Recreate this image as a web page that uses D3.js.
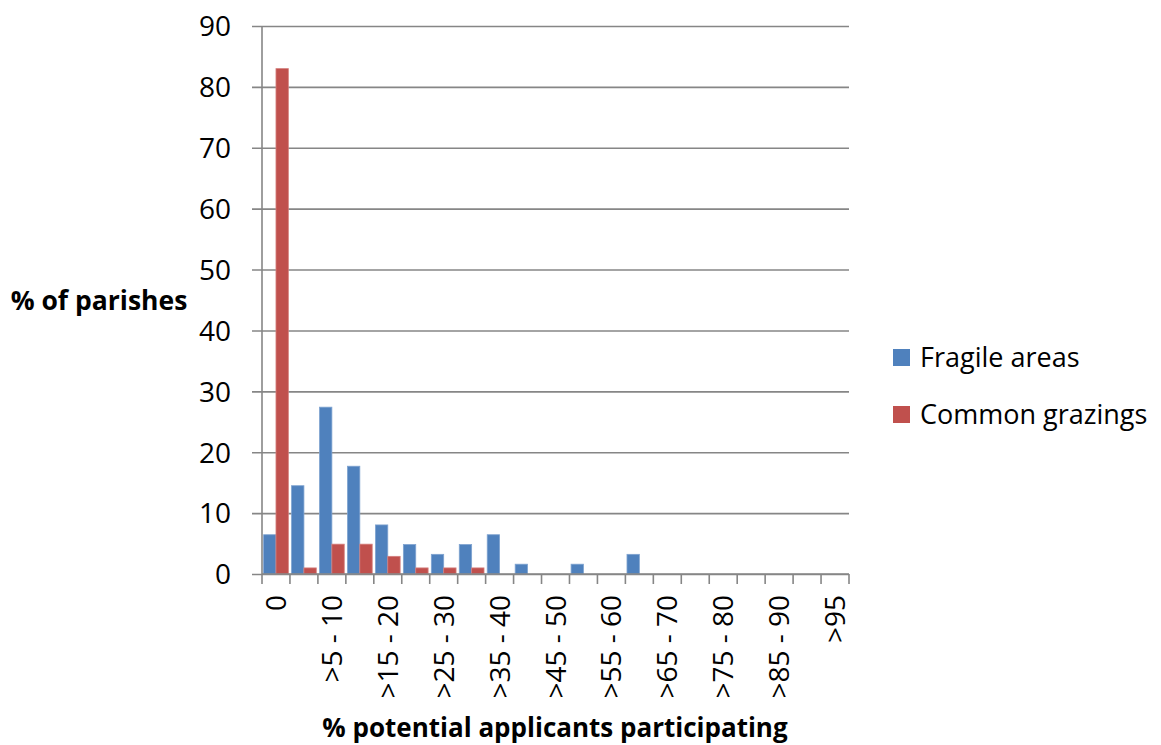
<!DOCTYPE html>
<html>
<head>
<meta charset="utf-8">
<script src="https://cdn.jsdelivr.net/npm/d3@7"></script>
<style>
  html, body { margin: 0; padding: 0; background: #fff; }
  svg { display: block; }
  text { font-family: "Open Sans", Lato, sans-serif; fill: #000; }
</style>
</head>
<body>
<svg id="chart" width="1161" height="745"></svg>
<script>
const categories = ["0", ">0 - 5", ">5 - 10", ">10 - 15", ">15 - 20", ">20 - 25", ">25 - 30", ">30 - 35", ">35 - 40", ">40 - 45", ">45 - 50", ">50 - 55", ">55 - 60", ">60 - 65", ">65 - 70", ">70 - 75", ">75 - 80", ">80 - 85", ">85 - 90", ">90 - 95", ">95"];
const seriesNames = ["Fragile areas", "Common grazings"];
const fragileAreas = [6.45, 14.5, 27.4, 17.7, 8.06, 4.84, 3.23, 4.84, 6.45, 1.61, 0, 1.61, 0, 3.23, 0, 0, 0, 0, 0, 0, 0];
const commonGrazings = [83.0, 1, 4.9, 4.9, 2.9, 1, 1, 1, 0, 0, 0, 0, 0, 0, 0, 0, 0, 0, 0, 0, 0];
const yTicks = [0, 10, 20, 30, 40, 50, 60, 70, 80, 90];
const colors = ["#4f81bd", "#c0504d"];
const strokes = ["#7fa3d0", "#d47f7d"];

const svg = d3.select("#chart");
const margin = {left: 262, right: 1161 - 849, top: 26, bottom: 745 - 574};
const W = 1161, H = 745;

const x = d3.scaleBand().domain(categories).range([margin.left, W - margin.right]).padding(0);
const x1 = d3.scaleBand().domain(seriesNames).range([0, x.bandwidth()]).paddingInner(0).paddingOuter(0.13);
const y = d3.scaleLinear().domain([0, 90]).range([H - margin.bottom, margin.top]);

// gridlines + y axis
const yAxis = d3.axisLeft(y).tickValues(yTicks).tickSize(0).tickPadding(31);
const gy = svg.append("g").attr("transform", `translate(${margin.left},0)`).call(yAxis);
gy.select(".domain").remove();
gy.selectAll(".tick text").style("font-size", "28px").attr("dy", "0.35em");
gy.selectAll(".tick").append("line")
  .attr("x1", -10).attr("x2", W - margin.right - margin.left)
  .attr("stroke", "#868686").attr("stroke-width", 1.6);

// bars
const data = categories.map((c, i) => ({c, vals: [fragileAreas[i], commonGrazings[i]]}));
const groups = svg.append("g").selectAll("g").data(data).join("g")
  .attr("transform", d => `translate(${x(d.c)},0)`);
groups.selectAll("rect").data(d => d.vals.map((v, k) => ({v, k}))).join("rect")
  .filter(d => d.v > 0)
  .attr("x", d => x1(seriesNames[d.k]))
  .attr("width", x1.bandwidth())
  .attr("y", d => y(d.v))
  .attr("height", d => y(0) - y(d.v))
  .attr("fill", d => colors[d.k])
  .attr("stroke", d => strokes[d.k])
  .attr("stroke-width", 0.8);

// y axis line
svg.append("line").attr("x1", margin.left).attr("x2", margin.left)
  .attr("y1", y(90)).attr("y2", y(0)).attr("stroke", "#868686").attr("stroke-width", 1.6);

// x axis
const gx = svg.append("g").attr("transform", `translate(0,${y(0)})`)
  .call(d3.axisBottom(x).tickSize(0).tickFormat((d, i) => i % 2 === 0 ? d : ""));
gx.select(".domain").remove();
gx.append("line").attr("x1", margin.left).attr("x2", W - margin.right)
  .attr("stroke", "#868686").attr("stroke-width", 1.6);
const bounds = categories.map(c => x(c)).concat([x(categories[categories.length - 1]) + x.step()]);
gx.selectAll(".bound").data(bounds).join("line").attr("class", "bound")
  .attr("x1", d => d).attr("x2", d => d).attr("y1", 0).attr("y2", 10)
  .attr("stroke", "#868686").attr("stroke-width", 1.6);
gx.selectAll(".tick text")
  .style("font-size", "28px")
  .attr("transform", "rotate(-90)")
  .attr("text-anchor", "end")
  .attr("x", -21).attr("y", 0).attr("dy", "0.36em");

// axis titles
svg.append("text").attr("x", 99).attr("y", 301).attr("dy", "0.35em")
  .attr("text-anchor", "middle").style("font-size", "26.5px").style("font-weight", "bold")
  .text("% of parishes");
svg.append("text").attr("x", 555).attr("y", 737)
  .attr("text-anchor", "middle").style("font-size", "26px").style("font-weight", "bold")
  .text("% potential applicants participating");

// legend
const lg = svg.append("g").attr("transform", "translate(893,349)");
seriesNames.forEach((n, i) => {
  const g = lg.append("g").attr("transform", `translate(0,${i * 57})`);
  g.append("rect").attr("width", 17).attr("height", 17).attr("fill", colors[i]);
  g.append("text").attr("x", 27).attr("y", 9).attr("dy", "0.35em").style("font-size", "27px").text(n);
});
</script>
</body>
</html>
